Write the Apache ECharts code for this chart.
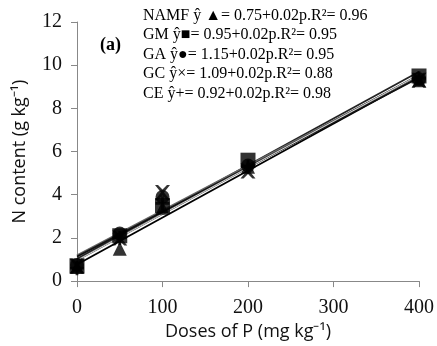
<!DOCTYPE html>
<html><head><meta charset="utf-8">
<script src="https://cdn.jsdelivr.net/npm/echarts@6/dist/echarts.min.js"></script>
<style>html,body{margin:0;padding:0;background:#fff}#c{width:437px;height:346px}</style>
</head><body><div id="c"></div>
<script>
const doses = [0, 50, 100, 200, 400];
const NAMF = [0.65, 1.5, 3.4, 5.3, 9.3];
const GM = [0.7, 2.1, 3.5, 5.6, 9.5];
const GA = [0.75, 2.2, 3.9, 5.35, 9.35];
const GC = [0.7, 2.0, 4.1, 5.1, 9.3];
const CE = [0.6, 2.0, 3.6, 5.3, 9.4];
const seriesNames = ['NAMF', 'GM', 'GA', 'GC', 'CE'];
const equations = [
  'NAMF ŷ ▲= 0.75+0.02p.R²= 0.96',
  'GM ŷ■= 0.95+0.02p.R²= 0.95',
  'GA ŷ●= 1.15+0.02p.R²= 0.95',
  'GC ŷ×= 1.09+0.02p.R²= 0.88',
  'CE ŷ+= 0.92+0.02p.R²= 0.98'
];
const xTicks = [0, 100, 200, 300, 400];

const allData = [NAMF, GM, GA, GC, CE];
const symbols = ['triangle', 'rect', 'circle',
  'path://M0,0 L2,0 L5,3 L8,0 L10,0 L6,5 L10,10 L8,10 L5,7 L2,10 L0,10 L4,5 Z',
  'path://M4,0 L6,0 L6,4 L10,4 L10,6 L6,6 L6,10 L4,10 L4,6 L0,6 L0,4 L4,4 Z'];
const symSizes = [14, 15, 14, 15, 14];
const lineColors = ['#000', '#222', '#666', '#111', '#444'];

function fit(ys) {
  const n = doses.length;
  const mx = doses.reduce((a, b) => a + b, 0) / n;
  const my = ys.reduce((a, b) => a + b, 0) / n;
  let sxy = 0, sxx = 0;
  for (let i = 0; i < n; i++) { sxy += (doses[i] - mx) * (ys[i] - my); sxx += (doses[i] - mx) ** 2; }
  const b = sxy / sxx, a = my - b * mx;
  return [[doses[0], a + b * doses[0]], [doses[n - 1], a + b * doses[n - 1]]];
}

const series = [];
allData.forEach((ys, i) => {
  series.push({
    type: 'line', name: seriesNames[i] + ' fit', data: fit(ys), symbol: 'none',
    lineStyle: { color: lineColors[i], width: 1.8 }, z: 2, silent: true
  });
});
// thin white highlight inside the band of lines
series.push({
  type: 'line', name: 'CE fit highlight', data: fit(CE), symbol: 'none',
  lineStyle: { color: '#fff', width: 0.8 }, z: 3, silent: true
});
allData.forEach((ys, i) => {
  series.push({
    type: 'scatter', name: seriesNames[i], data: doses.map((d, j) => [d, ys[j]]),
    symbol: symbols[i], symbolSize: symSizes[i],
    itemStyle: { color: '#000' }, z: 5
  });
});

const chart = echarts.init(document.getElementById('c'));
chart.setOption({
  animation: false,
  backgroundColor: '#fff',
  grid: { left: 77, right: 16, top: 22, bottom: 58 },
  xAxis: {
    type: 'value', min: 0, max: 400, interval: 100,
    name: 'Doses of P (mg kg⁻¹)', nameLocation: 'middle', nameGap: 33,
    nameTextStyle: { fontFamily: 'Open Sans', fontSize: 18, color: '#111' },
    axisLine: { lineStyle: { color: '#888' } },
    axisTick: { show: true, length: 6, lineStyle: { color: '#888' } },
    splitLine: { show: false },
    axisLabel: { fontFamily: 'Liberation Serif', fontSize: 20, color: '#111', margin: 17,
      formatter: v => xTicks.includes(v) ? String(v) : '' }
  },
  yAxis: {
    type: 'value', min: 0, max: 12, interval: 2,
    name: 'N content (g kg⁻¹)', nameLocation: 'middle', nameGap: 48, nameRotate: 90,
    nameTextStyle: { fontFamily: 'Open Sans', fontSize: 18, color: '#111' },
    axisLine: { show: true, lineStyle: { color: '#888' } },
    axisTick: { show: true, length: 6, lineStyle: { color: '#888' } },
    splitLine: { show: false },
    axisLabel: { fontFamily: 'Liberation Serif', fontSize: 20, color: '#111', margin: 15 }
  },
  graphic: [
    { type: 'text', left: 100, top: 36, style: { text: '(a)', font: 'bold 18px "Liberation Serif"', fill: '#000' } },
    { type: 'text', left: 143, top: 6, style: { text: equations.join('\n'), font: '16px "Liberation Serif"', lineHeight: 19.5, fill: '#000' } }
  ],
  series: series
});
</script></body></html>
